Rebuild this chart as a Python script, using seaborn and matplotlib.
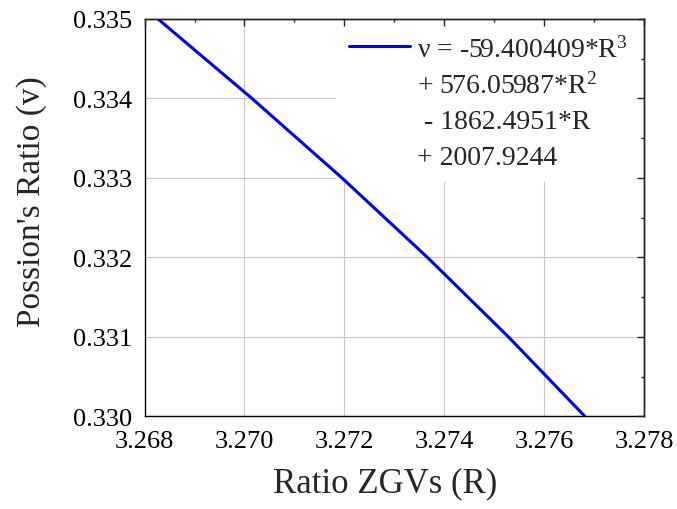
import matplotlib
matplotlib.use("Agg")
import matplotlib.pyplot as plt
from matplotlib.lines import Line2D
from matplotlib.ticker import MultipleLocator, FormatStrFormatter
import seaborn as sns
import pandas as pd

# Data
ratio_R = [3.26827, 3.27015, 3.27195, 3.27366, 3.27528, 3.27681]
poisson_v = [0.335, 0.334, 0.333, 0.332, 0.331, 0.330]
legend_lines = ["ν = -59.400409*R$^3$", "+ 576.05987*R$^2$", " - 1862.4951*R", "+ 2007.9244"]
x_label = "Ratio ZGVs (R)"
y_label = "Possion's Ratio (v)"

sns.set_style("white")
plt.rcParams["font.family"] = ["Liberation Serif", "DejaVu Serif"]
plt.rcParams["mathtext.fontset"] = "custom"
plt.rcParams["mathtext.rm"] = "Liberation Serif"
plt.rcParams["mathtext.it"] = "Liberation Serif:italic"
plt.rcParams["mathtext.bf"] = "Liberation Serif:bold"

df = pd.DataFrame({"R": ratio_R, "v": poisson_v})

fig = plt.figure(figsize=(6.77, 5.10), dpi=100)
ax = fig.add_axes([0.2135, 0.1818, 0.9517 - 0.2135, 0.9608 - 0.1818])

sns.lineplot(data=df, x="R", y="v", ax=ax, color="#0000ff", linewidth=2.2, sort=True,
             zorder=6)

ax.set_xlim(3.268, 3.278)
ax.set_ylim(0.330, 0.335)
ax.xaxis.set_major_locator(MultipleLocator(0.002))
ax.xaxis.set_minor_locator(MultipleLocator(0.001))
ax.yaxis.set_major_locator(MultipleLocator(0.001))
ax.yaxis.set_minor_locator(MultipleLocator(0.0005))
ax.xaxis.set_major_formatter(FormatStrFormatter("%.3f"))
ax.yaxis.set_major_formatter(FormatStrFormatter("%.3f"))

ax.grid(True, which="major", color="#c8c8c8", linewidth=0.8)
ax.set_axisbelow(True)

for s in ax.spines.values():
    s.set_color("black")
    s.set_linewidth(1.0)

ax.tick_params(axis="both", which="major", direction="out", length=5, width=1,
               labelsize=19, colors="black")
ax.tick_params(axis="both", which="minor", direction="out", length=2.5, width=1)
ax.tick_params(axis="x", which="major", pad=5)
ax.tick_params(axis="y", which="major", pad=4)

# mirrored inward ticks on top and right
secx = ax.secondary_xaxis("top")
secx.xaxis.set_major_locator(MultipleLocator(0.002))
secx.xaxis.set_minor_locator(MultipleLocator(0.001))
secx.tick_params(which="major", direction="in", length=5, width=1, labeltop=False)
secx.tick_params(which="minor", direction="in", length=2.5, width=1)
secx.spines["top"].set_linewidth(1.0)
secx.set_zorder(10)
secy = ax.secondary_yaxis("right")
secy.yaxis.set_major_locator(MultipleLocator(0.001))
secy.yaxis.set_minor_locator(MultipleLocator(0.0005))
secy.tick_params(which="major", direction="in", length=5, width=1, labelright=False)
secy.tick_params(which="minor", direction="in", length=2.5, width=1)
secy.spines["right"].set_linewidth(1.0)
secy.set_zorder(10)

ax.set_xlabel(x_label, fontsize=25)
ax.set_ylabel(y_label, fontsize=24)
ax.xaxis.set_label_coords(0.482, -0.125)
ax.yaxis.set_label_coords(-0.195, 0.543)

handles = [Line2D([], [], color="#0000ff", linewidth=2.2)] + \
          [Line2D([], [], color="none", linewidth=0) for _ in legend_lines[1:]]
leg = ax.legend(handles, legend_lines, loc="upper right", fontsize=20,
                frameon=True, facecolor="white", edgecolor="none", framealpha=1,
                handlelength=2.2, handletextpad=0.25, labelspacing=0.36,
                borderaxespad=0.15, borderpad=0.45, fancybox=False)
leg.set_zorder(5)

fig.savefig("out.png", dpi=100)
